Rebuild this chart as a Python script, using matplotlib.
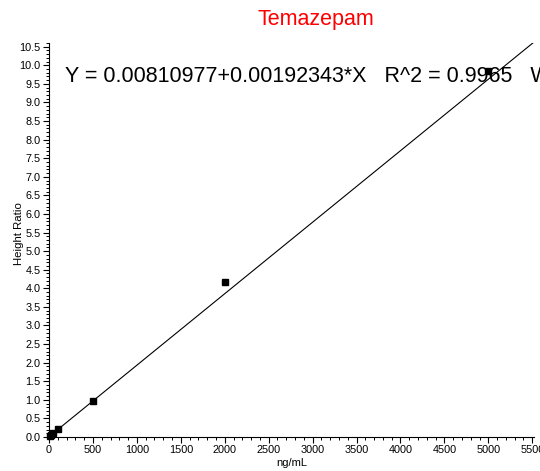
import matplotlib
matplotlib.use("Agg")
import matplotlib.pyplot as plt
from matplotlib.ticker import MultipleLocator, FormatStrFormatter
import numpy as np

plt.rcParams['font.family'] = ['Liberation Sans', 'DejaVu Sans']

conc = [10, 25, 50, 100, 500, 2000, 5000]
ratio = [0.03, 0.06, 0.11, 0.21, 0.97, 4.17, 9.84]
intercept = 0.00810977
slope = 0.00192343
title = "Temazepam"
equation = "Y = 0.00810977+0.00192343*X   R^2 = 0.9965   W: 1/X"

fig = plt.figure(figsize=(5.40, 4.71), dpi=100)
ax = fig.add_axes([49/540, 34/471, 485/540, 394/471])

xs = np.array([0, 5600])
ax.plot(xs, intercept + slope * xs, color='black', lw=0.8, clip_on=True)
ax.plot(conc, ratio, 's', color='black', markersize=4.3, clip_on=False)

ax.set_xlim(0, 5520)
ax.set_ylim(0, 10.6)
ax.xaxis.set_major_locator(MultipleLocator(500))
ax.xaxis.set_minor_locator(MultipleLocator(100))
ax.yaxis.set_major_locator(MultipleLocator(0.5))
ax.yaxis.set_minor_locator(MultipleLocator(0.1))
ax.yaxis.set_major_formatter(FormatStrFormatter('%.1f'))
ax.tick_params(which='major', length=4.5, width=0.8, labelsize=7.8, pad=1.5)
ax.tick_params(which='minor', length=2.5, width=0.7)
for s in ['top', 'right']:
    ax.spines[s].set_visible(False)
for s in ['left', 'bottom']:
    ax.spines[s].set_linewidth(0.8)

ax.set_xlabel("ng/mL", fontsize=8)
ax.set_ylabel("Height Ratio", fontsize=8.2)
ax.xaxis.set_label_coords(0.5, -(463 - 437) / 394, transform=ax.transAxes)
ax.yaxis.set_label_coords(-(49 - 19) / 485, (437 - 234) / 394, transform=ax.transAxes)
ax.xaxis.label.set_va('center')
ax.yaxis.label.set_va('center')

fig.text(316/540, 1 - 19/471, title, color='red', fontsize=15.5, ha='center', va='center')
fig.text(65/540, 1 - 77/471, equation, fontsize=15.5, ha='left', va='center')

fig.savefig("out.png", dpi=100)
